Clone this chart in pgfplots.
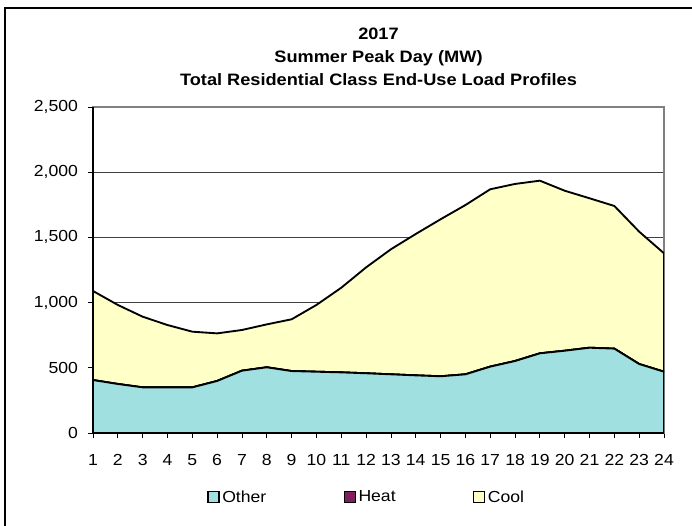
\documentclass[border=0pt]{standalone}
\usepackage{pgfplots}
\pgfplotsset{compat=1.18}
\usepackage{pgfplotstable}
\usepackage{fontspec}
\setmainfont{Liberation Sans}[FakeStretch=1.1]
\definecolor{otherc}{RGB}{160,224,224}
\definecolor{heatc}{RGB}{128,31,96}
\definecolor{coolc}{RGB}{255,255,200}
\pgfplotstableread{
x other heat cool
1 406 0 683
2 376 0 606
3 350 0 542
4 350 0 478
5 350 0 427
6 399 0 365
7 478 0 312
8 504 0 329
9 475 0 397
10 470 0 512
11 465 0 649
12 458 0 812
13 450 0 959
14 442 0 1084
15 435 0 1204
16 450 0 1298
17 509 0 1360
18 552 0 1358
19 611 0 1324
20 631 0 1227
21 654 0 1146
22 647 0 1094
23 529 0 1015
24 470 0 908
}\loadtable
\begin{document}
\begin{tikzpicture}
\useasboundingbox (0,0) rectangle (519pt,393.75pt);
\draw[black, line width=1.1pt] (3.75pt,-10pt) rectangle (530pt,387.75pt);
\begin{axis}[
  at={(69.75pt,69pt)}, anchor=south west,
  scale only axis, width=428.25pt, height=244.5pt,
  xmin=1, xmax=24, ymin=0, ymax=2500,
  xtick={1,...,24}, ytick={0,500,...,2500},
  stack plots=y,
  axis line style={draw=black!50, line width=1.2pt},
  tick align=outside, xtick pos=bottom, ytick pos=left,
  major tick length=3.75pt,
  tick style={black, line width=0.6pt},
  ymajorgrids, grid style={black!75, line width=0.6pt},
  /pgf/number format/assume math mode=true,
  /pgf/number format/1000 sep={,},
  ticklabel style={font=\fontsize{12}{14}\selectfont},
  xticklabel style={yshift=-8.7pt},
  yticklabel style={xshift=-4pt},
  title={2017\\Summer Peak Day (MW)\\Total Residential Class End-Use Load Profiles},
  title style={font=\fontsize{12.4}{17.25}\selectfont\bfseries, align=center, at={(0.5,1)}, anchor=base, yshift=10pt},
  legend columns=3,
  legend style={draw=none, fill=none, at={(0.48,-0.197)}, anchor=center,
    font=\fontsize{12}{14}\selectfont, /tikz/every even column/.append style={column sep=56pt}},
  legend image code/.code={\draw[#1, draw=black, line width=0.9pt] (0pt,-4.1pt) rectangle (8.25pt,4.1pt);},
  after end axis/.code={\draw[black, line width=1.1pt] (rel axis cs:0,1) -- (rel axis cs:0,0) -- (rel axis cs:1,0);},
]
\addplot[fill=otherc, draw=black, line width=1.4pt] table[x=x,y=other] {\loadtable} \closedcycle;
\addlegendentry{Other}
\addplot[fill=heatc, draw=black, line width=1.4pt] table[x=x,y=heat] {\loadtable} \closedcycle;
\addlegendentry{Heat}
\addplot[fill=coolc, draw=black, line width=1.4pt] table[x=x,y=cool] {\loadtable} \closedcycle;
\addlegendentry{Cool}
\end{axis}
\end{tikzpicture}
\end{document}
